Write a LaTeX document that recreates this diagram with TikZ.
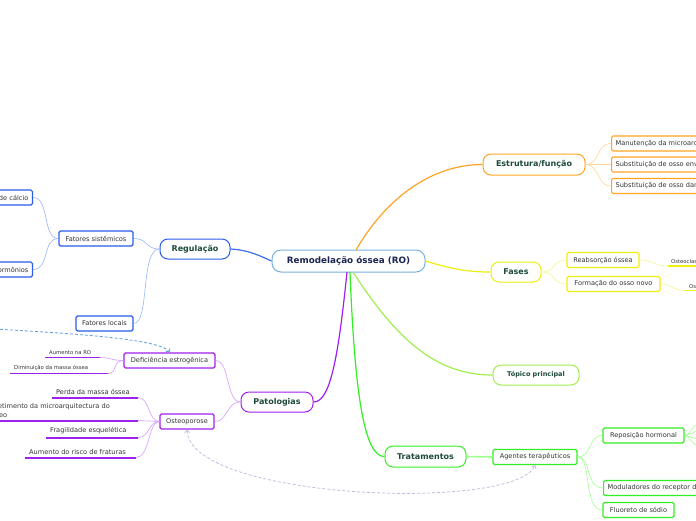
\documentclass[tikz,border=0pt]{standalone}
\usepackage{fontspec}
\setmainfont{DejaVu Sans}
\usetikzlibrary{arrows.meta}
\definecolor{cblue}{HTML}{2A5BEA}
\definecolor{cbluelight}{HTML}{95B4F8}
\definecolor{cbluemain}{HTML}{3D6EF0}
\definecolor{ccentral}{HTML}{78B0E0}
\definecolor{corange}{HTML}{FFA326}
\definecolor{corangelight}{HTML}{FFD596}
\definecolor{cyellow}{HTML}{EEEE10}
\definecolor{cyellowlight}{HTML}{F5F590}
\definecolor{clgreen}{HTML}{A0EE50}
\definecolor{cgreen}{HTML}{33EE22}
\definecolor{cgreenlight}{HTML}{A0FF90}
\definecolor{cpurple}{HTML}{A020F0}
\definecolor{cpurplelight}{HTML}{D39AFF}
\definecolor{cdashblue}{HTML}{5A9FE8}
\definecolor{cdashlav}{HTML}{C8B8E0}
\definecolor{topictext}{HTML}{1D4A3C}
\definecolor{centraltext}{HTML}{1A2550}
\definecolor{subtext}{HTML}{333333}
\begin{document}
\begin{tikzpicture}[x=1pt,y=-1pt,
  central/.style={draw=ccentral, line width=1pt, rounded corners=9pt, fill=white,
    font=\fontsize{8.8}{10}\selectfont\bfseries, text=centraltext,
    minimum width=153pt, minimum height=22pt, inner sep=1pt},
  topic/.style={draw=#1, line width=1pt, rounded corners=8pt, fill=white,
    font=\fontsize{8}{9}\selectfont\bfseries, text=topictext,
    minimum height=20pt, inner sep=1pt},
  subn/.style={draw=#1, line width=1.2pt, rounded corners=1.5pt, fill=white,
    font=\fontsize{6.6}{7.5}\selectfont, text=subtext,
    minimum height=15pt, inner xsep=4pt, inner ysep=1pt},
  leaf/.style={font=\fontsize{6.6}{8.5}\selectfont, text=subtext, inner sep=1pt},
  tinyleaf/.style={font=\fontsize{5.3}{6}\selectfont, text=subtext, inner sep=1pt},
  leafline/.style={draw=#1, line width=2pt},
  con/.style={draw=#1, line width=0.6pt},
  maincon/.style={draw=#1, line width=1.2pt}
]
\useasboundingbox (0,0) rectangle (696,520);

% central
\node[central] (c) at (348.5,261) {Remodelação óssea (RO)};

% main topics
\node[topic=cblue, minimum width=70pt] (reg) at (195,249) {Regulação};
\node[topic=corange, minimum width=102pt, minimum height=21pt] (est) at (534,164.5) {Estrutura/função};
\node[topic=cyellow, minimum width=50pt] (fas) at (516,272) {Fases};
\node[topic=clgreen, minimum width=86pt, font=\fontsize{6.5}{8}\selectfont\bfseries] (top) at (536,375) {Tópico principal};
\node[topic=cgreen, minimum width=81pt, minimum height=21pt] (tra) at (425.5,456.5) {Tratamentos};
\node[topic=cpurple, minimum width=72pt] (pat) at (277,402) {Patologias};

% main connectors
\draw[maincon=cbluemain] (reg.east) .. controls (250,250) and (262,257) .. (c.west);
\draw[maincon=corange] (356,250) .. controls (385,200) and (430,164.5) .. (est.west);
\draw[maincon=cyellow] (c.east) .. controls (455,270) and (470,272) .. (fas.west);
\draw[maincon=clgreen] (353,272) .. controls (400,345) and (440,375) .. (top.west);
\draw[maincon=cgreen] (350,272) .. controls (355,400) and (365,456.5) .. (tra.west);
\draw[maincon=cpurple] (347,272) .. controls (338,360) and (330,402) .. (pat.east);

% Regulação
\node[subn=cblue, minimum width=74pt] (fs) at (96,238.5) {Fatores sistêmicos};
\node[subn=cblue, minimum width=57pt] (fl) at (104.5,323.5) {Fatores locais};
\node[subn=cblue, anchor=east, text width=70pt, align=right] (cal) at (33,197.5) {de cálcio};
\node[subn=cblue, anchor=east, text width=70pt, align=right] (hor) at (33,269.5) {Hormônios};
\draw[con=cbluelight] (reg.west) .. controls (145,249) and (148,238.5) .. (fs.east);
\draw[con=cbluelight] (reg.west) .. controls (140,249) and (150,323.5) .. (fl.east);
\draw[con=cbluelight] (fs.west) .. controls (42,238.5) and (50,197.5) .. (cal.east);
\draw[con=cbluelight] (fs.west) .. controls (42,238.5) and (50,269.5) .. (hor.east);

% Estrutura/função
\node[subn=corange, anchor=west] (e1) at (611,143.5) {Manutenção da microarquitectura};
\node[subn=corange, anchor=west] (e2) at (611,164.5) {Substituição de osso envelhecido};
\node[subn=corange, anchor=west] (e3) at (611,186) {Substituição de osso danificado};
\draw[con=corangelight] (est.east) .. controls (600,164.5) and (596,143.5) .. (e1.west);
\draw[con=corangelight] (est.east) -- (e2.west);
\draw[con=corangelight] (est.east) .. controls (600,164.5) and (596,186) .. (e3.west);

% Fases
\node[subn=cyellow, minimum width=72pt] (f1) at (603,260) {Reabsorção óssea};
\node[subn=cyellow, minimum width=93pt] (f2) at (613.5,284) {Formação do osso novo};
\draw[con=cyellowlight] (fas.east) .. controls (556,272) and (552,260) .. (f1.west);
\draw[con=cyellowlight] (fas.east) .. controls (556,272) and (552,284) .. (f2.west);
\coordinate (o1L) at (668,266);
\coordinate (o1R) at (710,266);
\coordinate (o2L) at (685,290.5);
\coordinate (o2R) at (720,290.5);
\node[tinyleaf, anchor=south west] (o1t) at (670,265) {Osteoclastos};
\node[tinyleaf, anchor=south west] (o2t) at (688,289.5) {Osteoblastos};
\draw[leafline=cyellow, line width=1.5pt] (o1L) -- (o1R);
\draw[leafline=cyellow, line width=1.5pt] (o2L) -- (o2R);
\draw[con=cyellowlight] (f1.east) .. controls (655,260) and (652,266) .. (o1L);
\draw[con=cyellowlight] (f2.east) .. controls (673,284) and (672,290.5) .. (o2L);

% Tratamentos
\node[subn=cgreen, minimum width=84pt] (ag) at (535,457) {Agentes terapêuticos};
\node[subn=cgreen, minimum width=81pt] (t1) at (643.5,435.5) {Reposição hormonal};
\node[subn=cgreen, anchor=west] (t2) at (603,488) {Moduladores do receptor de estrogênio};
\node[subn=cgreen, minimum width=71pt] (t3) at (638.5,510) {Fluoreto de sódio};
\draw[cgreenlight, line width=1.6pt] (tra.east) -- (ag.west);
\draw[con=cgreenlight] (ag.east) .. controls (592,457) and (588,435.5) .. (t1.west);
\draw[con=cgreenlight] (ag.east) .. controls (592,457) and (585,488) .. (t2.west);
\draw[con=cgreenlight] (ag.east) .. controls (592,457) and (583,510) .. (t3.west);
\coordinate (r1) at (700,424);
\coordinate (r2) at (700,431);
\coordinate (r3) at (700,439);
\coordinate (r4) at (700,446);
\draw[con=cgreenlight] (t1.east) .. controls (690,435.5) and (692,424) .. (r1);
\draw[con=cgreenlight] (t1.east) .. controls (690,435.5) and (692,431) .. (r2);
\draw[con=cgreenlight] (t1.east) .. controls (690,435.5) and (692,439) .. (r3);
\draw[con=cgreenlight] (t1.east) .. controls (690,435.5) and (692,446) .. (r4);

% Patologias
\node[subn=cpurple, minimum width=91pt] (def) at (169.5,360.5) {Deficiência estrogênica};
\node[subn=cpurple, minimum width=54pt] (ost) at (187,421.5) {Osteoporose};
\draw[con=cpurplelight] (pat.west) .. controls (226,402) and (230,360.5) .. (def.east);
\draw[con=cpurplelight] (pat.west) .. controls (226,402) and (228,421.5) .. (ost.east);

% Deficiência leaves
\coordinate (a1L) at (45,357.5);
\coordinate (a1R) at (100,357.5);
\coordinate (a2L) at (10,373.5);
\coordinate (a2R) at (108,373.5);
\node[tinyleaf, anchor=south west] (a1t) at (48,355.5) {Aumento na RO};
\node[tinyleaf, anchor=south west] (a2t) at (13,371.5) {Diminuição da massa óssea};
\draw[leafline=cpurple, line width=1.6pt] (a1L) -- (a1R);
\draw[leafline=cpurple, line width=1.6pt] (a2L) -- (a2R);
\draw[con=cpurplelight] (def.west) .. controls (112,360.5) and (110,357.5) .. (a1R);
\draw[con=cpurplelight] (def.west) .. controls (112,360.5) and (118,373.5) .. (a2R);

% Osteoporose leaves
\coordinate (b1L) at (52,397.5);
\coordinate (b1R) at (138,397.5);
\coordinate (b2L) at (-10,420.5);
\coordinate (b2R) at (138,420.5);
\coordinate (b3L) at (46,437.5);
\coordinate (b3R) at (138,437.5);
\coordinate (b4L) at (25,457.5);
\coordinate (b4R) at (136,457.5);
\node[leaf, anchor=south west] (b1t) at (55,395.5) {Perda da massa óssea};
\node[leaf, anchor=south east, align=left] (b2t) at (111,418.5) {Comprometimento da microarquitectura do\\tecido ósseo};
\node[leaf, anchor=south west] (b3t) at (49,435.5) {Fragilidade esquelética};
\node[leaf, anchor=south west] (b4t) at (28,455.5) {Aumento do risco de fraturas};
\draw[leafline=cpurple] (b1L) -- (b1R);
\draw[leafline=cpurple] (b2L) -- (b2R);
\draw[leafline=cpurple] (b3L) -- (b3R);
\draw[leafline=cpurple] (b4L) -- (b4R);
\draw[con=cpurplelight] (ost.west) .. controls (148,421.5) and (150,397.5) .. (b1R);
\draw[con=cpurplelight] (ost.west) -- (b2R);
\draw[con=cpurplelight] (ost.west) .. controls (148,421.5) and (150,437.5) .. (b3R);
\draw[con=cpurplelight] (ost.west) .. controls (148,421.5) and (150,457.5) .. (b4R);

% dashed relations
\coordinate (dstart) at (-5,329);
\draw[cdashblue, dash pattern=on 3pt off 2pt, line width=0.8pt,
  -{Straight Barb[length=2.5pt,width=5pt]}]
  (dstart) .. controls (60,333) and (160,338) .. (def.north);
\draw[cdashlav, dash pattern=on 3pt off 2pt, line width=0.8pt,
  {Straight Barb[length=2.5pt,width=5pt]}-{Straight Barb[length=2.5pt,width=5pt]}]
  (ost.south) .. controls (190,500) and (515,512) .. (ag.south);
\end{tikzpicture}
\end{document}
